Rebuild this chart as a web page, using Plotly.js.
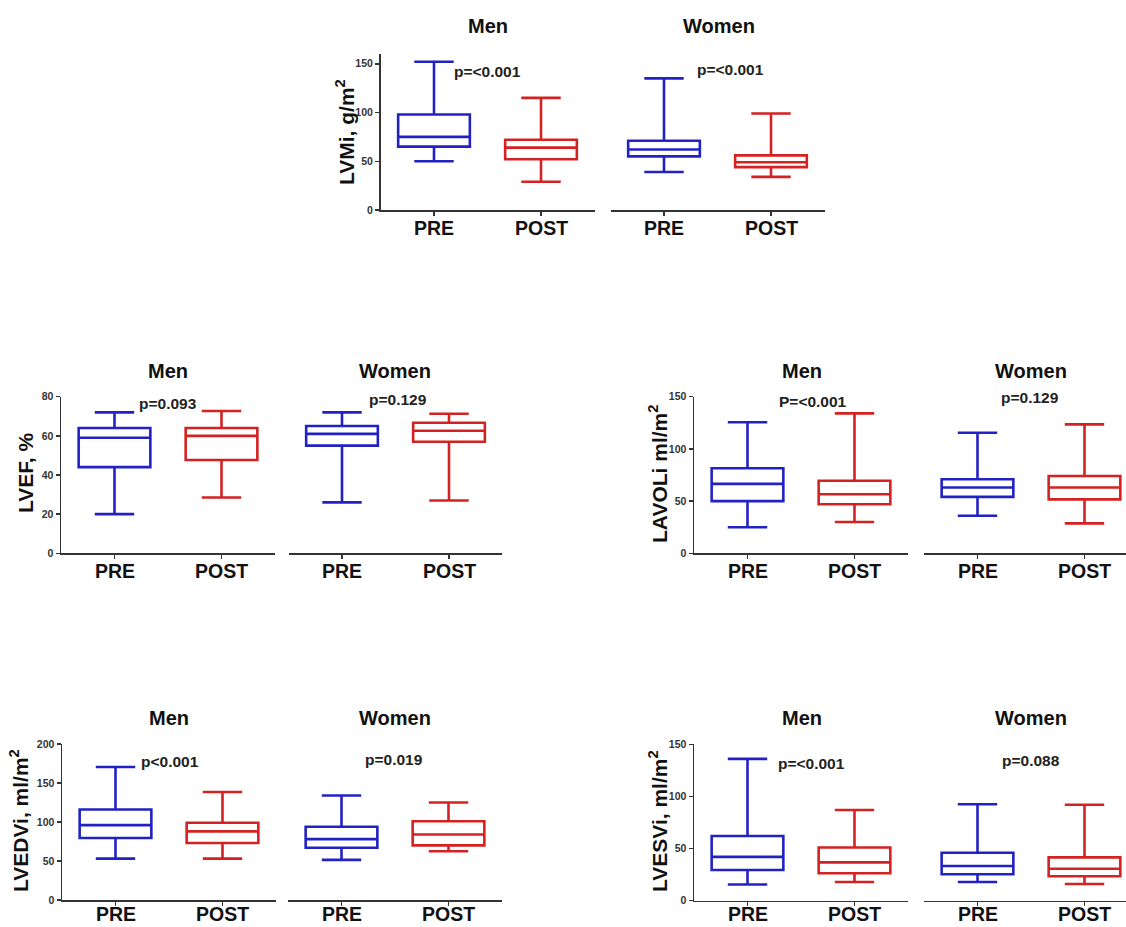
<!DOCTYPE html>
<html>
<head>
<meta charset="utf-8">
<script src="https://cdn.plot.ly/plotly-3.0.1.min.js"></script>
<style>html,body{margin:0;padding:0;background:#fff;}#chart{width:1126px;height:927px;}</style>
</head>
<body>
<div id="chart"></div>
<script>
// Categories
const groups = ['PRE', 'POST'];
const sexes = ['Men', 'Women'];

// Box statistics: [lower whisker, Q1, median, Q3, upper whisker]
const LVMi_men_PRE    = [50, 65, 75, 98, 152];
const LVMi_men_POST   = [29, 52, 64, 72, 115];
const LVMi_women_PRE  = [39, 55, 62, 71, 135];
const LVMi_women_POST = [34, 44, 49, 56, 99];

const LVEF_men_PRE    = [20, 44, 59, 64, 72];
const LVEF_men_POST   = [28.5, 47.7, 60, 64, 72.7];
const LVEF_women_PRE  = [26, 55, 61, 65, 72];
const LVEF_women_POST = [27, 57, 62.6, 66.7, 71.3];

const LAVOLi_men_PRE    = [25, 50, 66.5, 81.5, 125.5];
const LAVOLi_men_POST   = [30, 47, 56.5, 69.5, 134];
const LAVOLi_women_PRE  = [36, 54, 63, 71, 115.5];
const LAVOLi_women_POST = [28.7, 51.7, 63, 74, 123.5];

const LVEDVi_men_PRE    = [53, 79.5, 96, 116, 170.5];
const LVEDVi_men_POST   = [53, 73, 88, 99, 138.5];
const LVEDVi_women_PRE  = [51.5, 67, 78, 94, 134];
const LVEDVi_women_POST = [62.5, 70, 84, 101, 125];

const LVESVi_men_PRE    = [15.5, 29.5, 42, 62, 136];
const LVESVi_men_POST   = [18, 26.3, 36.8, 51, 87];
const LVESVi_women_PRE  = [18, 25.3, 33.3, 46, 92.5];
const LVESVi_women_POST = [16, 23.4, 30.7, 41.6, 92];

// Labels
const yTitles = ['LVMi, g/m<sup>2</sup>', 'LVEF, %', 'LAVOLi ml/m<sup>2</sup>', 'LVEDVi, ml/m<sup>2</sup>', 'LVESVi, ml/m<sup>2</sup>'];
const pMen   = ['p=<0.001', 'p=0.093', 'P=<0.001', 'p<0.001', 'p=<0.001'];
const pWomen = ['p=<0.001', 'p=0.129', 'p=0.129', 'p=0.019', 'p=0.088'];
const yMax   = [160, 80, 150, 200, 150];
const yDtick = [50, 20, 50, 50, 50];

const data5 = [
  [LVMi_men_PRE, LVMi_men_POST, LVMi_women_PRE, LVMi_women_POST],
  [LVEF_men_PRE, LVEF_men_POST, LVEF_women_PRE, LVEF_women_POST],
  [LAVOLi_men_PRE, LAVOLi_men_POST, LAVOLi_women_PRE, LAVOLi_women_POST],
  [LVEDVi_men_PRE, LVEDVi_men_POST, LVEDVi_women_PRE, LVEDVi_women_POST],
  [LVESVi_men_PRE, LVESVi_men_POST, LVESVi_women_PRE, LVESVi_women_POST]
];

// ---------- layout geometry (pixels) ----------
const W = 1126, H = 927;
const fx = px => px / W;
const fy = py => 1 - py / H;

// per panel: men x [l,r], women x [l,r], y [bottom, top]
const geo = [
  {men: [380.5, 594.5], women: [610.5, 824.5], y: [210, 54], gap: 18,
   tMen: [488, 26], tWomen: [719, 26], yt: [345, 132],
   pM: [487.5, 72], pW: [730, 69]},
  {men: [61, 275], women: [288.5, 501.5], y: [553.3, 396.7], gap: 18,
   tMen: [168, 371], tWomen: [395, 371], yt: [25, 473],
   pM: [167.5, 403], pW: [398, 399]},
  {men: [694, 908], women: [924, 1126], y: [553.3, 396.7], gap: 18,
   tMen: [802, 371], tWomen: [1031, 371], yt: [658, 474],
   pM: [813, 401.5], pW: [1029.5, 397.5]},
  {men: [62, 276], women: [288, 502], y: [900, 744], gap: 14,
   tMen: [169, 718], tWomen: [395, 718], yt: [19, 821],
   pM: [170, 761.5], pW: [393.5, 759.5]},
  {men: [694, 908], women: [924, 1126], y: [900.7, 744.3], gap: 13.5,
   tMen: [802, 718], tWomen: [1031, 718], yt: [658, 821],
   pM: [811.5, 763.5], pW: [1031, 760.5]}
];

const BLUE = '#2222c4';
const RED = '#d42222';
const AX = '#333333';
const FONT = 'Arial, "Liberation Sans", sans-serif';

const traces = [];
const layout = {
  width: W, height: H,
  margin: {l: 0, r: 0, t: 0, b: 0},
  paper_bgcolor: '#ffffff', plot_bgcolor: 'rgba(0,0,0,0)',
  showlegend: false,
  boxmode: 'overlay',
  font: {family: FONT, color: '#111'},
  annotations: []
};

let idx = 0;
for (let p = 0; p < 5; p++) {
  const g = geo[p];
  for (let s = 0; s < 2; s++) {
    idx++;
    const xa = idx === 1 ? 'xaxis' : 'xaxis' + idx;
    const ya = idx === 1 ? 'yaxis' : 'yaxis' + idx;
    const xr = idx === 1 ? 'x' : 'x' + idx;
    const yr = idx === 1 ? 'y' : 'y' + idx;
    const dom = s === 0 ? g.men : g.women;
    const spanPx = dom[1] - dom[0];
    const xMaxVal = -0.5 + spanPx / 107;
    layout[xa] = {
      domain: [fx(dom[0]), fx(dom[1])],
      anchor: yr,
      type: 'category',
      categoryorder: 'array', categoryarray: groups,
      range: [-0.5, Math.min(1.5, xMaxVal)],
      showline: true, linecolor: AX, linewidth: 1.5,
      ticks: 'outside', ticklen: 4, tickwidth: 1.5, tickcolor: AX,
      showticklabels: false,
      showgrid: false, zeroline: false, fixedrange: true
    };
    layout[ya] = {
      domain: [fy(g.y[0]), fy(g.y[1])],
      anchor: xr,
      range: [0, yMax[p]],
      dtick: yDtick[p], tick0: 0,
      showgrid: false, zeroline: false, fixedrange: true,
      visible: s === 0,
      showline: true, linecolor: AX, linewidth: 1.5,
      ticks: 'outside', ticklen: 4, tickwidth: 1.5, tickcolor: AX,
      tickfont: {family: FONT, size: 10.5, weight: 'bold', color: AX}
    };
    for (let k = 0; k < 2; k++) {
      const st = data5[p][s * 2 + k];
      traces.push({
        type: 'box',
        x: [groups[k]],
        lowerfence: [st[0]], q1: [st[1]], median: [st[2]], q3: [st[3]], upperfence: [st[4]],
        boxpoints: false,
        width: 0.67,
        whiskerwidth: 0.55,
        fillcolor: 'rgba(0,0,0,0)',
        line: {color: k === 0 ? BLUE : RED, width: 2.6},
        hoverinfo: 'skip',
        xaxis: xr, yaxis: yr,
        showlegend: false
      });
      // category label under its tick
      layout.annotations.push({
        text: groups[k], xref: xr, yref: 'paper', x: k, y: fy(g.y[0] + g.gap),
        xanchor: 'center', yanchor: 'middle', showarrow: false, borderpad: 0,
        font: {family: FONT, size: 19.5, weight: 'bold', color: '#111'}
      });
    }
  }
  // sex titles
  layout.annotations.push({
    text: sexes[0], xref: 'paper', yref: 'paper', x: fx(g.tMen[0]), y: fy(g.tMen[1]),
    xanchor: 'center', yanchor: 'middle', showarrow: false,
    font: {family: FONT, size: 20, weight: 'bold', color: '#111'}
  });
  layout.annotations.push({
    text: sexes[1], xref: 'paper', yref: 'paper', x: fx(g.tWomen[0]), y: fy(g.tWomen[1]),
    xanchor: 'center', yanchor: 'middle', showarrow: false,
    font: {family: FONT, size: 20, weight: 'bold', color: '#111'}
  });
  // y axis title
  layout.annotations.push({
    text: yTitles[p], xref: 'paper', yref: 'paper', x: fx(g.yt[0]), y: fy(g.yt[1]),
    xanchor: 'center', yanchor: 'middle', showarrow: false, textangle: -90,
    font: {family: FONT, size: 21, weight: 'bold', color: '#111'}
  });
  // p values
  layout.annotations.push({
    text: pMen[p], xref: 'paper', yref: 'paper', x: fx(g.pM[0]), y: fy(g.pM[1]),
    xanchor: 'center', yanchor: 'middle', showarrow: false,
    font: {family: FONT, size: 15.5, weight: 'bold', color: '#222'}
  });
  layout.annotations.push({
    text: pWomen[p], xref: 'paper', yref: 'paper', x: fx(g.pW[0]), y: fy(g.pW[1]),
    xanchor: 'center', yanchor: 'middle', showarrow: false,
    font: {family: FONT, size: 15.5, weight: 'bold', color: '#222'}
  });
}

Plotly.newPlot('chart', traces, layout, {displayModeBar: false, staticPlot: true});
</script>
</body>
</html>
